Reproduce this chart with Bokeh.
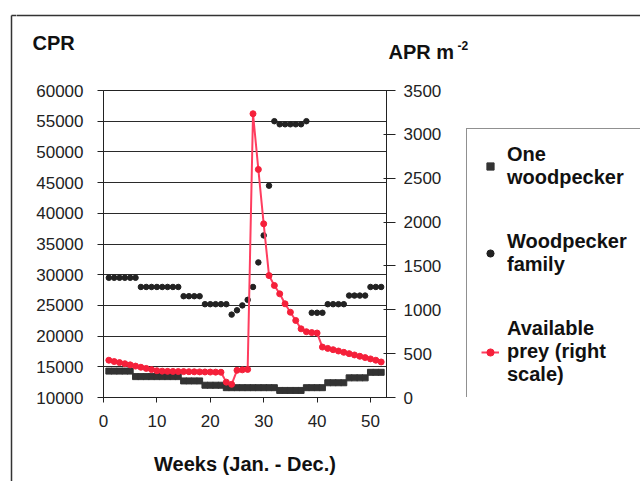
from bokeh.plotting import figure
from bokeh.layouts import column, row
from bokeh.models import (Range1d, LinearAxis, Legend, LegendItem, Label, FixedTicker)
from bokeh.embed import file_html
from bokeh.resources import INLINE

# ---------------- data ----------------
weeks = list(range(1, 53))

# CPR for one woodpecker (left scale)
one_woodpecker = [14300, 14300, 14300, 14300, 14300,
                  13400, 13400, 13400, 13400, 13400, 13400, 13400, 13400, 13400,
                  12700, 12700, 12700, 12700,
                  12000, 12000, 12000, 12000,
                  11600, 11600, 11600, 11600, 11600, 11600, 11600, 11600, 11600, 11600,
                  11150, 11150, 11150, 11150, 11150,
                  11600, 11600, 11600, 11600,
                  12400, 12400, 12400, 12400,
                  13200, 13200, 13200, 13200,
                  14100, 14100, 14100]

# CPR for a woodpecker family (left scale)
woodpecker_family = [29500, 29500, 29500, 29500, 29500, 29500,
                     28000, 28000, 28000, 28000, 28000, 28000, 28000, 28000,
                     26500, 26500, 26500, 26500,
                     25200, 25200, 25200, 25200, 25200,
                     23500, 24200, 25000, 25900, 28000, 32000, 36400, 44500,
                     55000, 54500, 54500, 54500, 54500, 54500, 55000,
                     23800, 23800, 23800,
                     25200, 25200, 25200, 25200,
                     26600, 26600, 26600, 26600,
                     28000, 28000, 28000]

# Available prey, APR m^-2 (right scale)
available_prey = [425, 410, 398, 385, 372, 358, 345, 332, 318, 305,
                  300, 298, 297, 296, 295, 294, 293, 292, 291, 290, 289, 288,
                  175, 150, 310, 315, 320,
                  3235, 2600, 1980, 1390, 1277, 1182, 1068, 972, 878, 783,
                  750, 740, 735,
                  575, 560, 545, 530, 515, 500, 485, 470, 455, 440, 425, 405]

x_ticks = [0, 10, 20, 30, 40, 50]
cpr_ticks = [10000, 15000, 20000, 25000, 30000, 35000, 40000, 45000, 50000, 55000, 60000]
apr_ticks = [0, 500, 1000, 1500, 2000, 2500, 3000, 3500]

legend_labels = ["One\nwoodpecker", "Woodpecker\nfamily", "Available\nprey (right\nscale)"]

FONT = "Liberation Sans"
INK = "#111111"
BORDER = "#333333"

ONE_COLOR = "#333333"
FAM_COLOR = "#222222"
PREY_LINE = "#ff3d5f"
PREY_MARK = "#f5203a"


def blank(width, height, xr, yr):
    f = figure(width=width, height=height, output_backend="svg", toolbar_location=None,
               x_range=xr, y_range=yr, x_axis_type=None, y_axis_type=None,
               min_border=0)
    f.min_border_left = f.min_border_right = f.min_border_top = f.min_border_bottom = 0
    f.outline_line_color = None
    f.background_fill_color = "white"
    f.border_fill_color = "white"
    f.xgrid.visible = False
    f.ygrid.visible = False
    return f


# ---------------- left strip: left edge of the chart-area border ----------------
strip = blank(16, 481, Range1d(0, 16), Range1d(481, 0))
strip.segment(x0=[11, 11], y0=[15, 15], x1=[11, 30], y1=[500, 15],
              line_color=BORDER, line_width=1.5)

# ---------------- header with the two scale titles ----------------
head = blank(624, 75, Range1d(16, 640), Range1d(75, 0))
head.segment(x0=[0], y0=[15], x1=[700], y1=[15], line_color=BORDER, line_width=1.5)


def lab(fig, text, x, y, size="20px"):
    fig.add_layout(Label(x=x, y=y, text=text, text_font=FONT, text_font_size=size,
                         text_font_style="bold", text_color=INK, text_align="left",
                         text_baseline="middle"))


lab(head, "CPR", 32, 42.5)
lab(head, "APR m", 388, 51)
lab(head, "-2", 457, 45, size="12px")

# ---------------- main chart ----------------
p = figure(width=444, height=406, output_backend="svg", toolbar_location=None,
           x_range=Range1d(0, 53), y_range=Range1d(10000, 60000),
           min_border_left=87, min_border_right=74, min_border_top=15,
           min_border_bottom=84)
p.background_fill_color = "white"
p.border_fill_color = "white"
p.outline_line_color = "#222222"
p.extra_y_ranges = {"prey": Range1d(0, 3500)}

for ax in (p.xaxis[0], p.yaxis[0]):
    ax.major_label_text_font = FONT
    ax.major_label_text_font_size = "17px"
    ax.major_label_text_color = "#222222"
    ax.axis_line_color = "#222222"
    ax.major_tick_line_color = "#222222"
    ax.minor_tick_line_color = None
    ax.major_tick_in = 0

p.xaxis[0].ticker = FixedTicker(ticks=x_ticks)
p.xaxis[0].major_tick_out = 5
p.xaxis[0].major_label_standoff = 12
p.xaxis[0].axis_label = "Weeks (Jan. - Dec.)"
p.xaxis[0].axis_label_text_font = FONT
p.xaxis[0].axis_label_text_font_style = "bold"
p.xaxis[0].axis_label_text_font_size = "20px"
p.xaxis[0].axis_label_text_color = INK
p.xaxis[0].axis_label_standoff = 23

p.yaxis[0].ticker = FixedTicker(ticks=cpr_ticks)
p.yaxis[0].major_tick_out = 6
p.yaxis[0].major_label_standoff = 14

right = LinearAxis(y_range_name="prey", ticker=FixedTicker(ticks=apr_ticks))
right.major_label_text_font = FONT
right.major_label_text_font_size = "17px"
right.major_label_text_color = "#222222"
right.axis_line_color = "#222222"
right.major_tick_line_color = "#222222"
right.minor_tick_line_color = None
right.major_tick_in = 3
right.major_tick_out = 9
right.major_label_standoff = 8
p.add_layout(right, "right")

p.xgrid.visible = False
p.ygrid.ticker = FixedTicker(ticks=cpr_ticks)
p.ygrid.grid_line_color = "#2a2a2a"
p.ygrid.grid_line_width = 1.2

p.scatter(weeks, one_woodpecker, marker="square", size=6,
          fill_color=ONE_COLOR, line_color=ONE_COLOR)
p.scatter(weeks, woodpecker_family, marker="circle", size=5.5,
          fill_color=FAM_COLOR, line_color=FAM_COLOR)
p.line(weeks, available_prey, y_range_name="prey", line_color=PREY_LINE, line_width=2)
p.scatter(weeks, available_prey, y_range_name="prey", marker="circle", size=6,
          fill_color=PREY_MARK, line_color=PREY_MARK)

# ---------------- legend panel (its frame is aligned with the chart frame) ----------------
# the series are drawn again here only as legend proxies; the ranges keep them out of view
side = blank(180, 406, Range1d(1000, 1180), Range1d(0, 307))
g_one = side.scatter(weeks, one_woodpecker, marker="square", size=6,
                     fill_color=ONE_COLOR, line_color=ONE_COLOR)
g_fam = side.scatter(weeks, woodpecker_family, marker="circle", size=4.5,
                     fill_color=FAM_COLOR, line_color=FAM_COLOR)
g_pl = side.line(weeks, available_prey, line_color=PREY_LINE, line_width=2)
g_ps = side.scatter(weeks, available_prey, marker="circle", size=6,
                    fill_color=PREY_MARK, line_color=PREY_MARK)

legend = Legend(items=[LegendItem(label=legend_labels[0], renderers=[g_one]),
                       LegendItem(label=legend_labels[1], renderers=[g_fam]),
                       LegendItem(label=legend_labels[2], renderers=[g_pl, g_ps])],
                location=(6, -4), margin=0, padding=14, spacing=41,
                glyph_width=18, glyph_height=20, label_standoff=8, label_width=220)
legend.label_text_font = FONT
legend.label_text_font_style = "bold"
legend.label_text_font_size = "20px"
legend.label_text_line_height = 0.94
legend.label_text_color = INK
legend.border_line_color = "#222222"
legend.border_line_width = 1.2
legend.background_fill_color = "white"
side.add_layout(legend)

layout = row(strip, column(head, row(p, side, spacing=0), spacing=0), spacing=0)

open("out.html", "w").write(file_html(layout, INLINE))
